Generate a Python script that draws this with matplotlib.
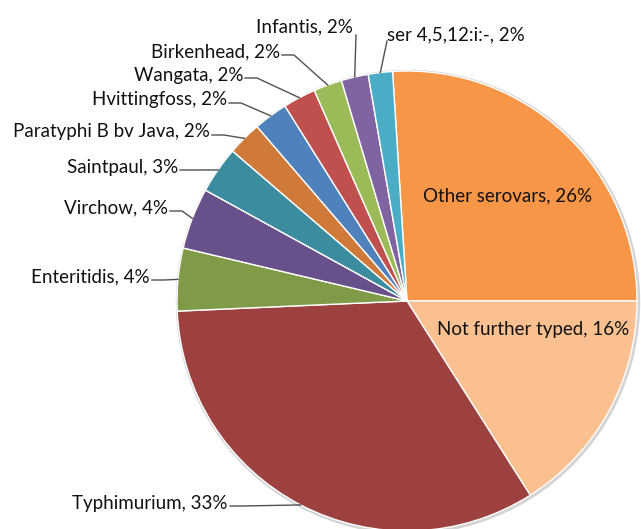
import numpy as np
import matplotlib.pyplot as plt

plt.rcParams['font.family'] = ['Lato', 'DejaVu Sans']

names = ['Other serovars', 'Not further typed', 'Typhimurium', 'Enteritidis',
         'Virchow', 'Saintpaul', 'Paratyphi B bv Java', 'Hvittingfoss',
         'Wangata', 'Birkenhead', 'Infantis', 'ser 4,5,12:i:-']
shares = [26.0, 16.0, 33.3, 4.4, 4.3, 3.3, 2.4, 2.4, 2.3, 2.0, 1.9, 1.7]
colors = ['#F79646', '#FAC090', '#9D4040', '#7F9B48', '#68508A', '#3C8CA0',
          '#CF7A38', '#4F81BD', '#C0504D', '#9BBB59', '#8064A2', '#4BACC6']

W, H = 641, 529
cx, cy, R = 407, 301, 230


def py(y):
    # pixel row -> data y (data y goes up)
    return H - y


fig = plt.figure(figsize=(W / 100, H / 100), dpi=100)
ax = fig.add_axes([0, 0, 1, 1])
ax.set_xlim(0, W)
ax.set_ylim(0, H)
ax.axis('off')

total = sum(shares)
start = 360 * shares[0] / total

# soft shadow ring
ax.add_patch(plt.Circle((cx + 1, py(cy) - 1), R + 1.5, color='#d4d4d4', zorder=0))
wedges, _ = ax.pie(shares, colors=colors, startangle=start, counterclock=False,
                   center=(cx, py(cy)), radius=R, frame=True,
                   wedgeprops=dict(edgecolor='white', linewidth=1.0))
ax.set_xlim(0, W)
ax.set_ylim(0, H)
ax.axis('off')

labels = [f'{n}, {round(v)}%' for n, v in zip(names, shares)]
fs = 13.5

# inside labels
ax.text(508, py(196), labels[0], ha='center', va='center', fontsize=fs, color='#111111')
ax.text(533, py(330), labels[1], ha='center', va='center', fontsize=fs, color='#111111')

# outside labels: index -> (text x, text y, ha)
outside = {
    2: (228, 503, 'right'),
    3: (150, 277, 'right'),
    4: (168, 208, 'right'),
    5: (178, 167, 'right'),
    6: (210, 132, 'right'),
    7: (227, 100, 'right'),
    8: (243, 75, 'right'),
    9: (280, 52, 'right'),
    10: (353, 27, 'right'),
    11: (387, 35, 'left'),
}

for i, (tx, ty, ha) in outside.items():
    w = wedges[i]
    mid = np.deg2rad((w.theta1 + w.theta2) / 2)
    ax_, ay_ = cx + R * np.cos(mid), py(cy) + R * np.sin(mid)
    ax.text(tx, py(ty), labels[i], ha=ha, va='center', fontsize=fs, color='#111111')
    if i == 10:
        xs = [tx + 3, ax_]
        ys = [py(ty + 8), ay_]
    elif i == 11:
        xs = [tx, ax_]
        ys = [py(ty + 6), ay_]
    else:
        xs = [tx + 2, tx + 14, ax_]
        ys = [py(ty + 3), py(ty + 3), ay_]
    ax.plot(xs, ys, color='#505050', lw=1.0, zorder=5)

fig.savefig('out.png', dpi=100)
